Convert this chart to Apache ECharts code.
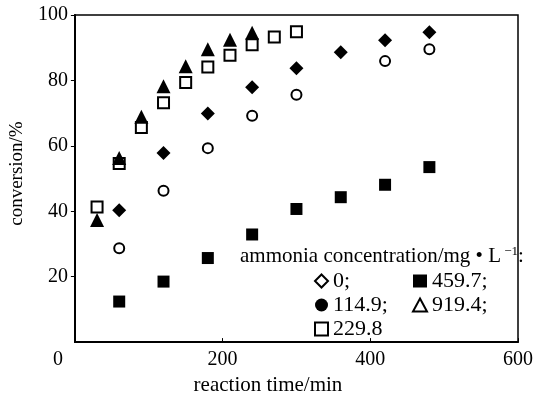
<!DOCTYPE html>
<html><head><meta charset="utf-8">
<script src="https://cdn.jsdelivr.net/npm/echarts@6/dist/echarts.min.js"></script>
<style>html,body{margin:0;padding:0;background:#fff}#c{width:536px;height:401px}</style>
</head><body><div id="c"></div>
<script>
const xTicks = [0, 200, 400, 600];
const yTicks = [20, 40, 60, 80, 100];
const time0 = [60, 120, 180, 240, 300, 420, 480];
const conv0 = [28.7, 46.3, 59.3, 69.2, 75.6, 85.9, 89.5];
const time114 = [60, 120, 180, 240, 300, 360, 420, 480];
const conv114 = [40.3, 57.8, 69.9, 77.9, 83.7, 88.6, 92.3, 94.7];
const time229 = [30, 60, 90, 120, 150, 180, 210, 240, 270, 300];
const conv229 = [41.3, 54.6, 65.6, 73.2, 79.4, 84.1, 87.7, 90.9, 93.3, 94.9];
const time459 = [60, 120, 180, 240, 300, 360, 420, 480];
const conv459 = [12.4, 18.5, 25.7, 32.9, 40.7, 44.3, 48.1, 53.5];
const time919 = [30, 60, 90, 120, 150, 180, 210, 240];
const conv919 = [37.3, 56.3, 68.9, 78.2, 84.3, 89.5, 92.4, 94.6];

const FONT = 'Liberation Serif';
const zip = (a, b) => a.map((v, i) => [v, b[i]]);
const openStyle = {color: '#fff', borderColor: '#000', borderWidth: 2, opacity: 1};
const fillStyle = {color: '#000', opacity: 1};

const chart = echarts.init(document.getElementById('c'));
chart.setOption({
  animation: false,
  backgroundColor: '#fff',
  textStyle: {fontFamily: FONT},
  title: {
    text: '{a|ammonia concentration/mg • L}{s| −1}{a|:}',
    left: 240, top: 245, padding: 0,
    textStyle: {fontWeight: 'normal', rich: {
      a: {fontFamily: FONT, fontSize: 21, fontWeight: 'normal', color: '#000'},
      s: {fontFamily: FONT, fontSize: 13, fontWeight: 'normal', color: '#000', verticalAlign: 'top', padding: [0, 0, 10, 0]}
    }}
  },
  grid: {left: 71, right: 14, top: 15, bottom: 55, show: true, borderColor: '#000', borderWidth: 1.5, containLabel: false},
  xAxis: {
    type: 'value', min: 0, max: 600, interval: 200,
    name: 'reaction time/min', nameLocation: 'middle', nameGap: 30,
    nameTextStyle: {fontFamily: FONT, fontSize: 21, color: '#000', padding: [0, 57, 0, 0]},
    axisLine: {show: true, lineStyle: {color: '#000', width: 2}},
    axisTick: {show: true, inside: true, length: 4, lineStyle: {color: '#000', width: 1}},
    splitLine: {show: false},
    axisLabel: {fontFamily: FONT, fontSize: 20, color: '#000', margin: 8,
      formatter: v => v === 0 ? '{z|0}' : String(v),
      rich: {z: {fontFamily: FONT, fontSize: 20, color: '#000', padding: [0, 34, 0, 0]}}}
  },
  yAxis: {
    type: 'value', min: 0, max: 100, interval: 20,
    name: 'conversion/%', nameLocation: 'middle', nameGap: 42,
    nameTextStyle: {fontFamily: FONT, fontSize: 19, color: '#000', padding: [0, 0, 0, 10]},
    axisLine: {show: true, lineStyle: {color: '#000', width: 2}},
    axisTick: {show: true, inside: false, length: 4, lineStyle: {color: '#000', width: 1}},
    splitLine: {show: false},
    axisLabel: {fontFamily: FONT, fontSize: 20, color: '#000', margin: 7, showMinLabel: false,
      formatter: v => v === 0 ? '' : String(v)}
  },
  legend: [
    {
      orient: 'vertical', left: 309, top: 265, itemWidth: 13, itemHeight: 13, itemGap: 2,
      selectedMode: false,
      textStyle: {fontFamily: FONT, fontSize: 22, color: '#000', lineHeight: 21},
      data: [
        {name: '0;', icon: 'diamond', itemStyle: {color: '#fff', borderColor: '#000', borderWidth: 2}},
        {name: '114.9;', icon: 'circle', itemStyle: {color: '#000', borderWidth: 0}},
        {name: '229.8', icon: 'rect', itemStyle: {color: '#fff', borderColor: '#000', borderWidth: 2}}
      ]
    },
    {
      orient: 'vertical', left: 407, top: 265, itemWidth: 14, itemHeight: 13, itemGap: 2,
      selectedMode: false,
      textStyle: {fontFamily: FONT, fontSize: 22, color: '#000', lineHeight: 21},
      data: [
        {name: '459.7;', icon: 'rect', itemStyle: {color: '#000', borderWidth: 0}},
        {name: '919.4;', icon: 'triangle', itemStyle: {color: '#fff', borderColor: '#000', borderWidth: 2}}
      ]
    }
  ],
  series: [
    {name: '0;', type: 'scatter', symbol: 'circle', symbolSize: 10, itemStyle: openStyle, data: zip(time0, conv0)},
    {name: '114.9;', type: 'scatter', symbol: 'diamond', symbolSize: 14, itemStyle: fillStyle, data: zip(time114, conv114)},
    {name: '229.8', type: 'scatter', symbol: 'rect', symbolSize: 11, itemStyle: openStyle, data: zip(time229, conv229)},
    {name: '459.7;', type: 'scatter', symbol: 'rect', symbolSize: 12, itemStyle: fillStyle, data: zip(time459, conv459)},
    {name: '919.4;', type: 'scatter', symbol: 'triangle', symbolSize: 14, itemStyle: fillStyle, data: zip(time919, conv919)}
  ]
});
</script>
</body></html>
